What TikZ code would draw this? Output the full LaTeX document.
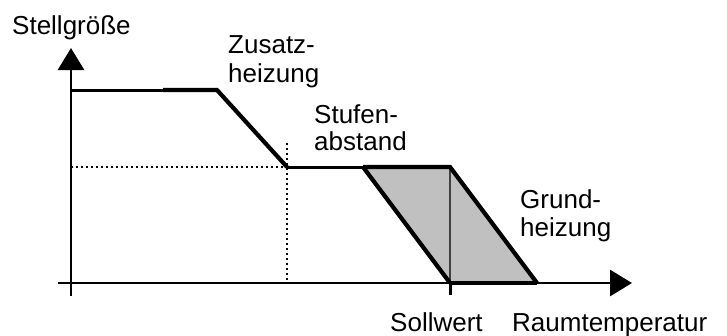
\documentclass[tikz,border=0pt]{standalone}
\usepackage{fontspec}
\setmainfont{Liberation Sans}
\usetikzlibrary{arrows.meta}
\begin{document}
\begin{tikzpicture}[x=1pt,y=-1pt,
  lbl/.style={anchor=base west,inner sep=0pt,font=\fontsize{26}{30}\selectfont},
  axis/.style={line width=2.8pt,-{Triangle[length=22pt,width=26pt]}},
  thick line/.style={line width=4.2pt,line join=miter},
  thin line/.style={line width=3pt},
  dots/.style={line width=2pt,dash pattern=on 2pt off 3pt}]
\useasboundingbox (0,0) rectangle (727,335);
% key points
\coordinate (o) at (71,283);
\coordinate (xs) at (58,283);
\coordinate (xe) at (632,283);
\coordinate (ys) at (71,296);
\coordinate (ye) at (71,48);
\coordinate (t0) at (71,90);
\coordinate (t1) at (163,90);
\coordinate (t2) at (217,90);
\coordinate (m0) at (287,167);
\coordinate (m1) at (363,167);
\coordinate (m2) at (450,167);
\coordinate (b1) at (450,283);
\coordinate (b2) at (537,283);
\coordinate (tick) at (450,295);
\coordinate (dl) at (71,167);
\coordinate (dt) at (287,143);
\coordinate (db) at (287,283);
% shaded band
\fill[fill={rgb,255:red,192;green,192;blue,192}] (m1) -- (m2) -- (b2) -- (b1) -- cycle;
\draw[line width=1.2pt,black!75] (m2) -- (b1);
% dotted guides
\draw[dots] (dl) -- (m0);
\draw[dots] (dt) -- (db);
% axes
\draw[axis] (xs) -- (xe);
\draw[axis] (ys) -- (ye);
\draw[thin line] (b1) -- (tick);
% characteristic
\draw[thin line] (t0) -- (t1);
\draw[thick line] (t1) -- (t2) -- (m0);
\draw[thin line] (m0) -- (m1);
\draw[thick line] (m1) -- (m2) -- (b2);
\draw[thick line] (m1) -- (b1);
\draw[thick line] (b1) -- (b2);
% labels
\node[lbl] (ylab) at (12,34) {Stellgröße};
\node[lbl] (z1) at (228,53) {Zusatz-};
\node[lbl] (z2) at (228,82) {heizung};
\node[lbl] (s1) at (314,123) {Stufen-};
\node[lbl] (s2) at (314,150) {abstand};
\node[lbl] (g1) at (520,208) {Grund-};
\node[lbl] (g2) at (520,236) {heizung};
\node[lbl] (sw) at (390,331) {Sollwert};
\node[lbl] (xlab) at (512,331) {Raumtemperatur};
\end{tikzpicture}
\end{document}
